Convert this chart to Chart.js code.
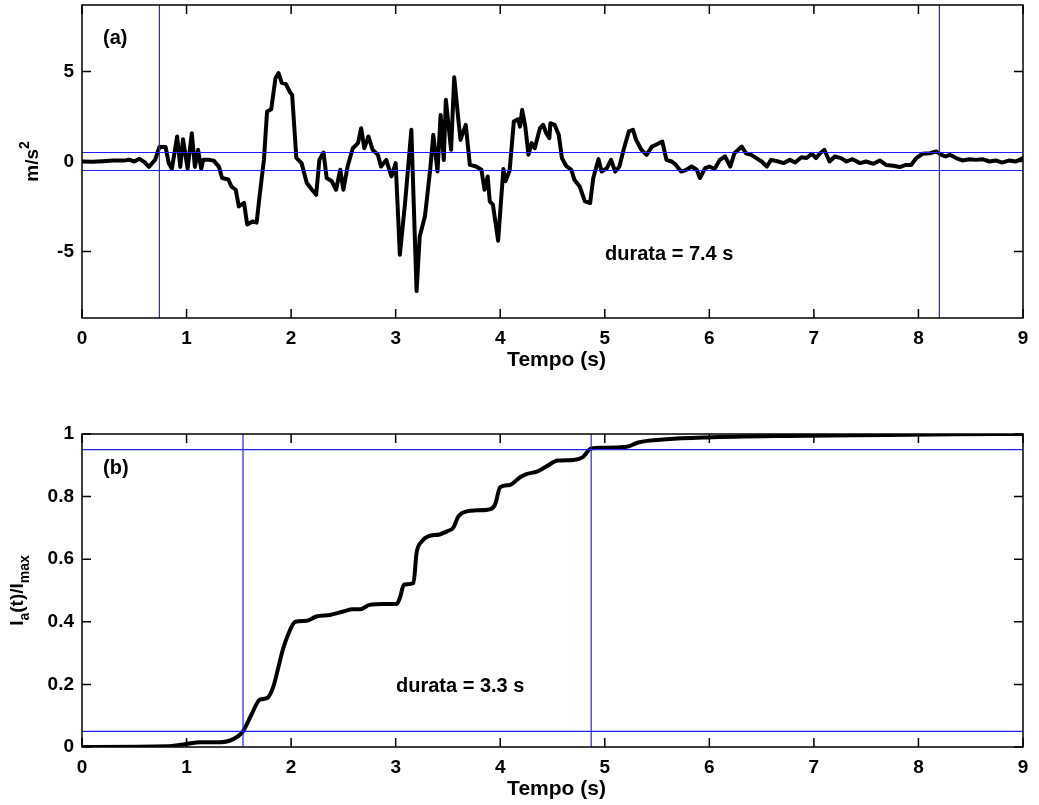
<!DOCTYPE html>
<html>
<head>
<meta charset="utf-8">
<script src="https://cdn.jsdelivr.net/npm/chart.js@4"></script>
<style>
  body { margin: 0; background: #fff; }
  canvas { position: absolute; left: 0; }
</style>
</head>
<body>
<canvas id="chartA" width="1039" height="385" style="top:0"></canvas>
<canvas id="chartB" width="1039" height="420" style="top:385px"></canvas>
<script>
// (a) accelerogram
const timeA = [0, 0.1, 0.2, 0.3, 0.4, 0.45, 0.5, 0.55, 0.6, 0.64, 0.7, 0.74, 0.8, 0.83, 0.86, 0.91, 0.94, 0.966,
  1.01, 1.05, 1.08, 1.11, 1.14, 1.16, 1.21, 1.26, 1.31, 1.34, 1.4, 1.43, 1.47, 1.5, 1.55, 1.58, 1.63, 1.67, 1.7,
  1.74, 1.77, 1.81, 1.85, 1.88, 1.91, 1.95, 1.99, 2.01, 2.05, 2.1, 2.15, 2.2, 2.24, 2.27, 2.31, 2.34, 2.39, 2.43,
  2.47, 2.5, 2.54, 2.59, 2.64, 2.67, 2.7, 2.74, 2.78, 2.83, 2.86, 2.91, 2.96, 3.0, 3.04, 3.09, 3.15, 3.2, 3.23,
  3.28, 3.33, 3.36, 3.4, 3.43, 3.46, 3.48, 3.53, 3.56, 3.6, 3.62, 3.67, 3.71, 3.77, 3.82, 3.85, 3.88, 3.9, 3.93,
  3.98, 4.03, 4.05, 4.09, 4.13, 4.17, 4.19, 4.21, 4.24, 4.27, 4.3, 4.33, 4.38, 4.41, 4.44, 4.47, 4.48, 4.52, 4.56,
  4.59, 4.63, 4.68, 4.71, 4.76, 4.81, 4.86, 4.89, 4.94, 4.97, 5.02, 5.06, 5.1, 5.14, 5.18, 5.23, 5.27, 5.3, 5.35,
  5.4, 5.45, 5.49, 5.55, 5.59, 5.64, 5.68, 5.73, 5.78, 5.83, 5.88, 5.91, 5.96, 6.0, 6.05, 6.1, 6.15, 6.2, 6.24,
  6.31, 6.35, 6.4, 6.45, 6.5, 6.55, 6.59, 6.66, 6.71, 6.77, 6.82, 6.88, 6.93, 6.98, 7.02, 7.06, 7.1, 7.15, 7.2,
  7.26, 7.31, 7.37, 7.44, 7.5, 7.57, 7.63, 7.69, 7.76, 7.82, 7.88, 7.93, 7.98, 8.04, 8.11, 8.17, 8.22, 8.26, 8.3,
  8.36, 8.42, 8.49, 8.55, 8.61, 8.68, 8.74, 8.8, 8.87, 8.93, 9.0];
const accel = [0, -0.02, 0.02, 0.05, 0.05, 0.1, 0, 0.15, -0.05, -0.3, 0.1, 0.8, 0.8, -0.1, -0.4, 1.39, -0.3, 1.24,
  -0.4, 1.57, -0.3, 0.65, -0.4, 0.1, 0.1, 0.05, -0.3, -0.92, -1.0, -1.4, -1.57, -2.5, -2.3, -3.5, -3.33, -3.4, -1.85,
  0.09, 2.78, 2.9, 4.63, 4.91, 4.39, 4.3, 3.85, 3.7, 0.2, -0.09, -1.2, -1.57, -1.85, 0.09, 0.5, -0.92, -1.1, -1.57,
  -0.46, -1.57, -0.28, 0.74, 1.02, 1.85, 0.74, 1.39, 0.65, 0.37, -0.28, 0.09, -0.83, -0.09, -5.18, -2.31, 1.76, -7.2, -4.17,
  -3.05, -0.46, 1.48, -0.56, 2.59, 0.09, 3.43, 0.65, 4.69, 2.31, 1.2, 2.04, -0.19, -0.28, -0.46, -1.57, -0.83, -2.22, -2.4,
  -4.4, -0.42, -1.1, -0.5, 2.22, 2.35, 1.94, 2.87, 1.94, 0.37, 1.02, 0.74, 1.85, 2.04, 1.57, 1.3, 2.13, 2.04, 1.48,
  0.19, -0.24, -0.46, -1.02, -1.39, -2.22, -2.31, -0.92, 0.13, -0.56, -0.37, 0.09, -0.56, -0.28, 0.65, 1.67, 1.76, 1.2, 0.65,
  0.37, 0.83, 0.93, 1.11, 0.09, 0, -0.19, -0.56, -0.46, -0.28, -0.46, -0.92, -0.37, -0.28, -0.42, 0.09, 0.28, -0.28, 0.46,
  0.83, 0.46, 0.37, 0.19, 0, -0.28, 0.09, 0, -0.09, 0.09, -0.06, 0.24, 0.19, 0.43, 0.19, 0.46, 0.65, 0, 0.28,
  0.19, 0, 0.13, -0.09, 0, -0.13, 0.06, -0.19, -0.24, -0.31, -0.19, -0.19, 0.19, 0.43, 0.46, 0.56, 0.37, 0.28, 0.37,
  0.19, 0.06, 0.13, 0.09, 0.13, 0, 0.06, -0.06, 0.06, 0, 0.19];

// (b) normalised Arias intensity
const timeB = [0, 0.81, 1.0, 1.13, 1.32, 1.41, 1.49, 1.54, 1.62, 1.7, 1.77, 1.83, 1.88, 1.92, 1.97, 2.04, 2.15, 2.24,
  2.37, 2.5, 2.59, 2.66, 2.75, 2.88, 3.01, 3.04, 3.08, 3.17, 3.2, 3.25, 3.31, 3.42, 3.49, 3.55, 3.6, 3.68, 3.77,
  3.88, 3.95, 4.0, 4.09, 4.19, 4.25, 4.35, 4.44, 4.55, 4.7, 4.79, 4.87, 4.98, 5.21, 5.32, 5.59, 5.97, 6.74, 7.7,
  8.33, 9.0];
const arias = [0, 0.002, 0.01, 0.015, 0.015, 0.02, 0.034, 0.05, 0.103, 0.151, 0.156, 0.193, 0.257, 0.31, 0.358,
  0.4, 0.403, 0.417, 0.422, 0.433, 0.44, 0.44, 0.454, 0.457, 0.457, 0.476, 0.519, 0.524, 0.62, 0.657, 0.673, 0.679,
  0.689, 0.7, 0.737, 0.753, 0.756, 0.758, 0.774, 0.83, 0.837, 0.862, 0.872, 0.88, 0.896, 0.915, 0.917, 0.926, 0.954,
  0.956, 0.959, 0.973, 0.983, 0.989, 0.994, 0.997, 0.999, 1.0];

// thresholds and duration markers
const accelLevels = [0.5, -0.5];
const bracketA = [0.74, 8.2];
const ariasLevels = [0.05, 0.95];
const bracketB = [1.54, 4.87];

const xTicks = [0, 1, 2, 3, 4, 5, 6, 7, 8, 9];
const yTicksA = [-5, 0, 5];
const yTicksB = [0, 0.2, 0.4, 0.6, 0.8, 1];
const yLimA = 8.7;

const FONT = '"Liberation Sans", Arial, sans-serif';
const tickFont = { family: FONT, size: 19, weight: 'bold' };
const BLUE = '#2020ff';

function pts(xs, ys) { return xs.map((x, i) => ({ x: x, y: ys[i] })); }

function guideSets(xMarks, yMarks, xMin, xMax, yMin, yMax) {
  const sets = [];
  xMarks.forEach(v => sets.push(pts([v, v], [yMin, yMax])));
  yMarks.forEach(v => sets.push(pts([xMin, xMax], [v, v])));
  return sets.map(d => ({ data: d, borderColor: BLUE, borderWidth: 1.2, pointRadius: 0 }));
}

// frame, inward ticks on all sides and text annotations
const framePlugin = {
  id: 'frame',
  afterDatasetsDraw(chart, args, opts) {
    const { ctx, chartArea: a, scales } = chart;
    ctx.save();
    ctx.strokeStyle = '#000';
    ctx.lineWidth = 1.5;
    ctx.strokeRect(a.left, a.top, a.right - a.left, a.bottom - a.top);
    ctx.beginPath();
    scales.x.ticks.forEach(t => {
      const px = scales.x.getPixelForValue(t.value);
      ctx.moveTo(px, a.bottom); ctx.lineTo(px, a.bottom - 9);
      ctx.moveTo(px, a.top); ctx.lineTo(px, a.top + 9);
    });
    scales.y.ticks.forEach(t => {
      const py = scales.y.getPixelForValue(t.value);
      ctx.moveTo(a.left, py); ctx.lineTo(a.left + 9, py);
      ctx.moveTo(a.right, py); ctx.lineTo(a.right - 9, py);
    });
    ctx.stroke();

    ctx.fillStyle = '#000';
    ctx.font = 'bold 20px ' + FONT;
    ctx.textBaseline = 'middle';
    ctx.textAlign = 'left';
    opts.notes.forEach(n => ctx.fillText(n.text, n.x, n.y));
    ctx.font = 'bold 21px ' + FONT;
    ctx.textAlign = 'center';
    ctx.fillText('Tempo (s)', (a.left + a.right) / 2 + 4, a.bottom + 42);

    // rotated y title made of pieces (sub/superscripts)
    const parts = opts.yTitle;
    let total = 0;
    parts.forEach(p => {
      ctx.font = 'bold ' + (p.size || 19) + 'px ' + FONT;
      p.w = ctx.measureText(p.text).width;
      total += p.w;
    });
    ctx.translate(opts.yTitleX, (a.top + a.bottom) / 2);
    ctx.rotate(-Math.PI / 2);
    ctx.textAlign = 'left';
    ctx.textBaseline = 'alphabetic';
    let cx = -total / 2;
    parts.forEach(p => {
      ctx.font = 'bold ' + (p.size || 19) + 'px ' + FONT;
      ctx.fillText(p.text, cx, p.dy || 0);
      cx += p.w;
    });
    ctx.restore();
  }
};

function axes(yMin, yMax, yTicks, yFmt, xHeight) {
  return {
    x: {
      type: 'linear', min: 0, max: 9,
      afterBuildTicks: s => { s.ticks = xTicks.map(v => ({ value: v })); },
      afterFit: s => { s.height = xHeight; s.paddingLeft = 0; s.paddingRight = 0; },
      grid: { display: false, drawTicks: false },
      border: { display: false },
      ticks: { color: '#000', font: tickFont, padding: 9, maxRotation: 0, autoSkip: false, callback: v => String(v) }
    },
    y: {
      type: 'linear', min: yMin, max: yMax,
      afterBuildTicks: s => { s.ticks = yTicks.map(v => ({ value: v })); },
      afterFit: s => { s.width = 82; s.paddingTop = 0; s.paddingBottom = 0; },
      grid: { display: false, drawTicks: false },
      border: { display: false },
      ticks: { color: '#000', font: tickFont, padding: 8, autoSkip: false, callback: yFmt }
    }
  };
}

new Chart(document.getElementById('chartA'), {
  type: 'line',
  data: {
    datasets: guideSets(bracketA, accelLevels, 0, 9, -yLimA, yLimA).concat([{
      data: pts(timeA, accel), borderColor: '#000', borderWidth: 4, pointRadius: 0,
      tension: 0, borderJoinStyle: 'round', borderCapStyle: 'round'
    }])
  },
  options: {
    responsive: false, animation: false,
    layout: { padding: { top: 5, right: 16, left: 0, bottom: 0 } },
    scales: axes(-yLimA, yLimA, yTicksA, v => String(v), 67),
    plugins: {
      legend: { display: false }, tooltip: { enabled: false },
      frame: {
        notes: [{ text: '(a)', x: 103, y: 38 }, { text: 'durata = 7.4 s', x: 605, y: 254 }],
        yTitle: [{ text: 'm/s' }, { text: '2', size: 14, dy: -9 }],
        yTitleX: 38
      }
    }
  },
  plugins: [framePlugin]
});

new Chart(document.getElementById('chartB'), {
  type: 'line',
  data: {
    datasets: guideSets(bracketB, ariasLevels, 0, 9, 0, 1).concat([{
      data: pts(timeB, arias), borderColor: '#000', borderWidth: 4, pointRadius: 0,
      cubicInterpolationMode: 'monotone', borderCapStyle: 'round'
    }])
  },
  options: {
    responsive: false, animation: false,
    layout: { padding: { top: 49, right: 16, left: 0, bottom: 0 } },
    scales: axes(0, 1, yTicksB, v => (v === 0 || v === 1) ? String(v) : v.toFixed(1), 58),
    plugins: {
      legend: { display: false }, tooltip: { enabled: false },
      frame: {
        notes: [{ text: '(b)', x: 103, y: 83 }, { text: 'durata = 3.3 s', x: 396, y: 301 }],
        yTitle: [{ text: 'I' }, { text: 'a', size: 14, dy: 6 }, { text: '(t)/I' }, { text: 'max', size: 14, dy: 6 }],
        yTitleX: 23
      }
    }
  },
  plugins: [framePlugin]
});
</script>
</body>
</html>
